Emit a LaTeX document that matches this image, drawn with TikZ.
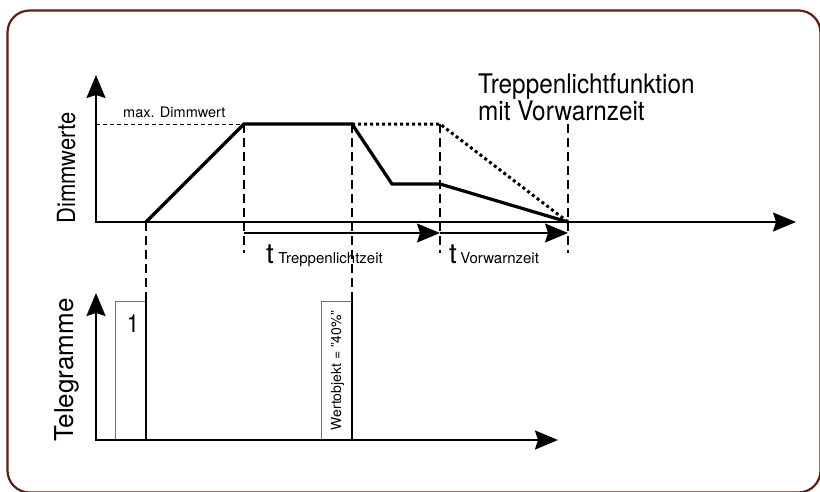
\documentclass[tikz,border=0pt]{standalone}
\usepackage{fontspec}
\setmainfont{TeX Gyre Heros}
\usetikzlibrary{arrows.meta,positioning}
\definecolor{framebrown}{RGB}{94,32,24}
\newcommand{\fs}[1]{\fontsize{#1}{#1}\selectfont}
\newcommand{\narrow}[1]{\scalebox{0.88}[1]{#1}}

\begin{document}
\begin{tikzpicture}[x=1pt, y=-1pt,
    axis/.style={line width=1.8pt, {Stealth[length=23pt, width=19pt, inset=3pt]}-{Stealth[length=23pt, width=19pt, inset=3pt]}},
    tarrow/.style={line width=1.2pt, -{Stealth[length=23pt, width=19pt, inset=3pt]}},
    curve/.style={line width=3.2pt},
    dotcurve/.style={line width=3pt, dash pattern=on 3pt off 3pt},
    guide/.style={line width=1.4pt, dash pattern=on 9pt off 5pt},
    maxline/.style={line width=0.8pt, dash pattern=on 4pt off 3pt},
    telbox/.style={draw=black!55, line width=0.9pt, minimum width=30pt, minimum height=138pt, inner sep=0pt, anchor=south east},
    lbl/.style={inner sep=0pt, anchor=base west}]

    \useasboundingbox (0,0) rectangle (820,491);
    \draw[framebrown, line width=2.2pt, rounded corners=22pt] (7.5,10.5) rectangle (820.5,492.5);

    \coordinate (o1) at (96,222);
    \coordinate (y1) at (96,75);
    \coordinate (x1) at (796,222);
    \coordinate (o2) at (96,440);
    \coordinate (y2) at (96,293);
    \coordinate (x2) at (558,440);

    \coordinate (m0) at (96,124);
    \coordinate (p0) at (146,222);
    \coordinate (p1) at (244,124);
    \coordinate (p2) at (352,124);
    \coordinate (p3) at (392,184);
    \coordinate (p4) at (440,184);
    \coordinate (p5) at (568,222);
    \coordinate (q1) at (440,124);
    \coordinate (q2) at (568,124);

    \coordinate (g1) at (244,253);
    \coordinate (g3) at (440,253);
    \coordinate (g4) at (568,253);

    \coordinate (t0) at (244,233);
    \coordinate (t1) at (440,233);
    \coordinate (t2) at (568,233);

    \node[telbox] (tg1) at (146,440) {};
    \node[telbox] (tg2) at (352,440) {};
    \draw[line width=1.1pt] (tg1.south east) -- (tg1.north east);
    \draw[line width=1.1pt] (tg2.south east) -- (tg2.north east);

    \draw[guide] (p0) -- (tg1.north east);
    \draw[guide] (p1) -- (g1);
    \draw[guide] (p2) -- (tg2.north east);
    \draw[guide] (q1) -- (g3);
    \draw[guide] (q2) -- (g4);
    \draw[maxline] (m0) -- (p1);

    \draw[tarrow] (t0) -- (t1);
    \draw[tarrow] (t1) -- (t2);

    \draw[dotcurve] (p2) -- (q1) -- (p5);
    \draw[curve] (p0) -- (p1) -- (p2) -- (p3) -- (p4) -- (p5);

    \draw[axis] (y1) -- (o1) -- (x1);
    \draw[axis] (y2) -- (o2) -- (x2);

    \node[lbl, font=\fs{14.5}] (maxlbl) at (123,117) {max. Dimmwert};
    \node[inner sep=0pt, anchor=north west, align=left, font=\fontsize{27}{22}\selectfont] (title) at (478,73.5)
        {\scalebox{0.9}[1]{Treppenlichtfunktion}\\\scalebox{0.9}[1]{mit Vorwarnzeit}};

    \node[lbl, font=\fs{28}] (tT) at (266,263) {t};
    \node[lbl, font=\fs{15}] (sT) [right=4pt of tT.base east, anchor=base west] {Treppenlichtzeit};
    \node[lbl, font=\fs{28}] (tV) at (449,263) {t};
    \node[lbl, font=\fs{15}] (sV) [right=3pt of tV.base east, anchor=base west] {Vorwarnzeit};

    \node[rotate=90, anchor=base, inner sep=0pt, font=\fs{25}] (ylbl1) at (75,168) {\narrow{Dimmwerte}};
    \node[rotate=90, anchor=base, inner sep=0pt, font=\fs{26}] (ylbl2) at (73,370) {Telegramme};

    \node[inner sep=0pt, anchor=base, font=\fs{25}] (n1) at (133,332) {\narrow{1}};
    \node[rotate=90, inner sep=0pt, font=\fs{14}] (wlbl) [right=1pt of tg2.center, anchor=center] {Wertobjekt = "40\%"};

\end{tikzpicture}
\end{document}
